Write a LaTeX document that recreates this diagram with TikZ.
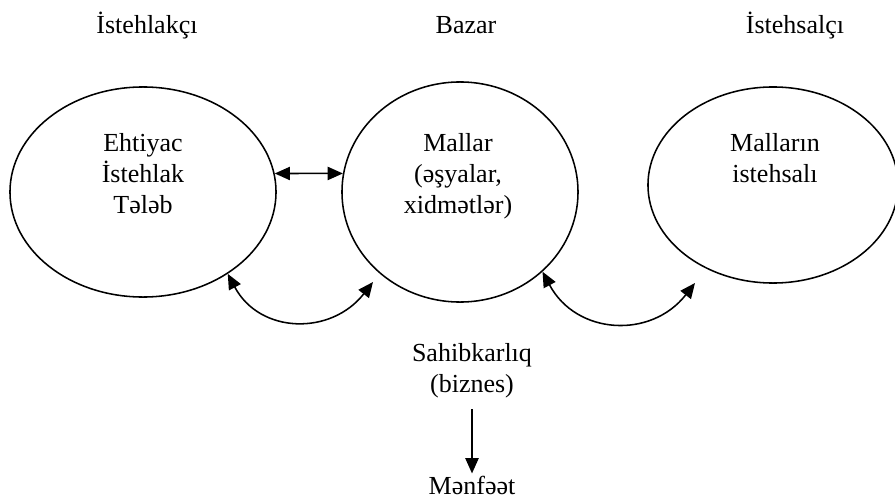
\documentclass[tikz,border=0pt]{standalone}
\usepackage{fontspec}
\setmainfont{Liberation Serif}
\usetikzlibrary{arrows.meta,shapes.geometric}

\begin{document}
\begin{tikzpicture}[
  x=0.025cm, y=0.025cm,
  >={Triangle[length=3.8mm,width=3.3mm]},
  every node/.style={font=\fontsize{18.5}{22}\selectfont, align=center},
  oval/.style={draw, ellipse, line width=1.1pt, inner sep=0pt},
  arr/.style={->, line width=1.1pt},
  twoway/.style={<->, line width=1.1pt}
]
\useasboundingbox (0,0) rectangle (895,502);
% headings
\node[anchor=base] (consumer) at (147,468) {İstehlakçı};
\node[anchor=base] (market) at (466,468) {Bazar};
\node[anchor=base] (producer) at (795,468) {İstehsalçı};
% ovals
\node[oval, minimum width=6.65cm, minimum height=5.25cm] (need) at (143,310) {};
\node[oval, minimum width=5.9cm, minimum height=5.5cm] (goods) at (460,310) {};
\node[oval, minimum width=6.25cm, minimum height=4.9cm] (make) at (773,317) {};
\node (needtxt) at (143,328) {Ehtiyac\\İstehlak\\Tələb};
\node (goodstxt) at (458,325.5) {Mallar\\(əşyalar,\\xidmətlər)};
\node (maketxt) at (775,343.5) {Malların\\istehsalı};
% business and profit
\node (biz) at (472,131) {Sahibkarlıq\\(biznes)};
\node[inner sep=0.5pt, outer sep=0pt] (profit) at (472,17) {Mənfəət};
\coordinate (goodsend) at (373,220);
\coordinate (makeend) at (695,219);
\draw[twoway] (need.8) -- (goods.171);
\draw[twoway] (need.-44) to[out=-62, in=-128, looseness=1.2] (goodsend);
\draw[twoway] (goods.-44) to[out=-62, in=-128, looseness=1.2] (makeend);
\draw[arr, shorten <=1.5mm, shorten >=0.4mm] (biz) -- (profit);
\end{tikzpicture}
\end{document}
